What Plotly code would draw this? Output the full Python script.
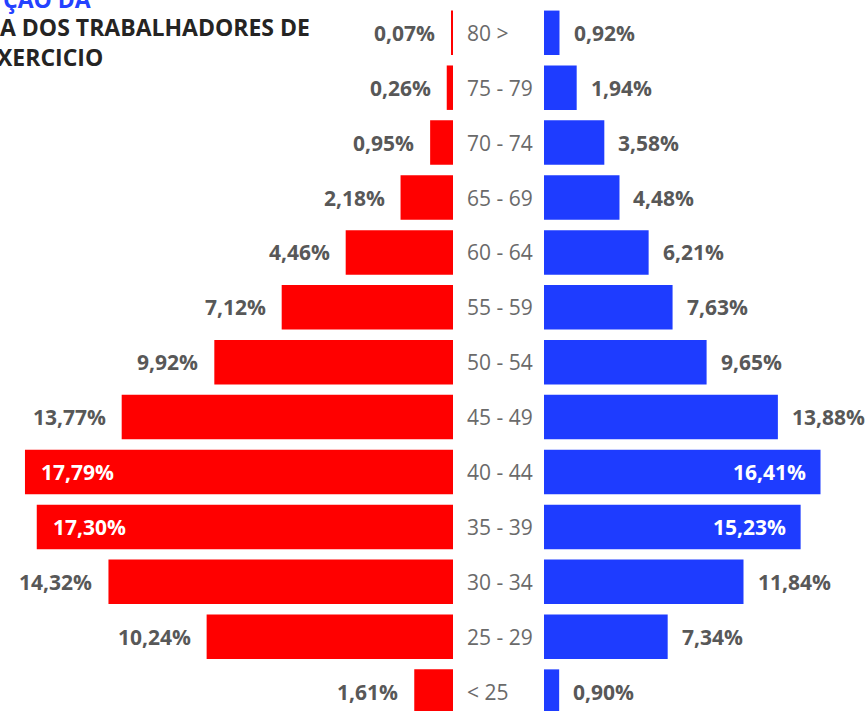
import plotly.graph_objects as go

categories = ["80 >", "75 - 79", "70 - 74", "65 - 69", "60 - 64", "55 - 59", "50 - 54",
              "45 - 49", "40 - 44", "35 - 39", "30 - 34", "25 - 29", "< 25"]
left_values = [0.07, 0.26, 0.95, 2.18, 4.46, 7.12, 9.92, 13.77, 17.79, 17.30, 14.32, 10.24, 1.61]
right_values = [0.92, 1.94, 3.58, 4.48, 6.21, 7.63, 9.65, 13.88, 16.41, 15.23, 11.84, 7.34, 0.90]
title_lines = ["ÇÃO DA", "A DOS TRABALHADORES DE", "XERCICIO"]

W, H = 866, 711
RED = "#FF0000"
BLUE = "#1E3CFF"
LABEL_COLOR = "#585858"
CAT_COLOR = "#6a6a6a"
FONT = "Open Sans"
LBL_SIZE = 21
CAT_SIZE = 21


def fmt(v):
    return f"{v:.2f}".replace(".", ",") + "%"


fig = go.Figure()
fig.add_trace(go.Bar(y=categories, x=left_values, orientation="h", xaxis="x", yaxis="y",
                     marker=dict(color=RED, line=dict(width=0)), hoverinfo="skip", showlegend=False))
fig.add_trace(go.Bar(y=categories, x=right_values, orientation="h", xaxis="x2", yaxis="y",
                     marker=dict(color=BLUE, line=dict(width=0)), hoverinfo="skip", showlegend=False))

annotations = []
for c, v in zip(categories, left_values):
    inside = v > 15
    annotations.append(dict(
        x=v, y=c, xref="x", yref="y", text=fmt(v), showarrow=False,
        xanchor="left" if inside else "right", xshift=14 if inside else -14,
        font=dict(family=FONT, size=LBL_SIZE, weight=700, color="white" if inside else LABEL_COLOR)))
for c, v in zip(categories, right_values):
    inside = v > 15
    annotations.append(dict(
        x=v, y=c, xref="x2", yref="y", text=fmt(v), showarrow=False,
        xanchor="right" if inside else "left", xshift=-13 if inside else 12,
        font=dict(family=FONT, size=LBL_SIZE, weight=700, color="white" if inside else LABEL_COLOR)))
for c in categories:
    annotations.append(dict(
        x=465 / W, y=c, xref="paper", yref="y", text=c, showarrow=False, xanchor="left",
        font=dict(family=FONT, size=CAT_SIZE, color=CAT_COLOR)))

# title (cropped in the reference)
annotations.append(dict(x=1 / W, y=1 + 0.5 / H, xref="paper", yref="paper", text=title_lines[0],
                        showarrow=False, xanchor="left", yanchor="middle",
                        font=dict(family=FONT, size=23, weight=700, color="#2442ff")))
annotations.append(dict(x=-2 / W, y=1 - 27 / H, xref="paper", yref="paper", text=title_lines[1],
                        showarrow=False, xanchor="left", yanchor="middle",
                        font=dict(family=FONT, size=23, weight=700, color="#252423")))
annotations.append(dict(x=-5 / W, y=1 - 57 / H, xref="paper", yref="paper", text=title_lines[2],
                        showarrow=False, xanchor="left", yanchor="middle",
                        font=dict(family=FONT, size=23, weight=700, color="#252423")))

pitch = 54.9
first_center = 32.8
y_top = -first_center / pitch
y_bottom = (H - first_center) / pitch

fig.update_layout(
    width=W, height=H, autosize=False,
    margin=dict(l=0, r=0, t=0, b=0),
    paper_bgcolor="white", plot_bgcolor="white",
    bargap=0.19,
    xaxis=dict(domain=[0, 453 / W], range=[453 / 24.06, 0], visible=False, fixedrange=True),
    xaxis2=dict(domain=[544 / W, 1], range=[0, 322 / 16.85], visible=False, fixedrange=True),
    yaxis=dict(type="category", categoryorder="array", categoryarray=categories,
               range=[y_bottom, y_top], visible=False, fixedrange=True),
    annotations=annotations,
)

fig.write_html("out.html", config={"displayModeBar": False},
               post_script="document.body.style.margin='0';document.body.style.overflow='hidden';")
